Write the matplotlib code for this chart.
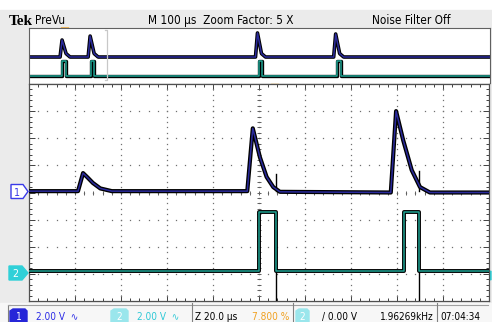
import matplotlib.pyplot as plt
from matplotlib.patches import Polygon, Rectangle
from matplotlib import font_manager
import numpy as np

# main window, 20 us/div, 2 V/div
ch1_times = [0, 21.3, 23.5, 25.5, 27.8, 31, 36, 94.9, 97.3, 100.4, 103.3, 106.2, 109.1,
             157.3, 159.6, 162.7, 166.4, 170, 174.3, 200]
ch1_volts = [0, 0, 1.33, 1.0, 0.6, 0.2, 0, 0, 4.63, 2.5, 1.05, 0.3, -0.05,
             -0.1, 5.9, 3.75, 1.55, 0.3, -0.1, -0.1]
ch2_times = [0, 100, 100, 107.3, 107.3, 163.2, 163.2, 169.6, 169.6, 200]
ch2_volts = [0, 0, 4.38, 4.38, 0, 0, 4.38, 4.38, 0, 0]
spike_times = [107.4, 169.7]
ch1_spike_tops = [1.25, 1.5]
ch2_spike_bottoms = [-2.3, -2.3]

# preview window (M 100 us -> 1 ms across)
pre_ch1_times = [0, 67.4, 71.7, 80.4, 89, 128.3, 132.6, 141.3, 150, 491.3, 495.6, 504.3, 513,
                 660.9, 665.2, 673.9, 682.6, 1000]
pre_ch1_volts = [0, 0, 4.95, 1.0, 0, 0, 6.1, 1.0, 0, 0, 7.0, 1.0, 0, 0, 6.7, 1.0, 0, 0]
pre_ch2_times = [0, 71.7, 71.7, 80.4, 80.4, 134, 134, 142, 142, 498.5, 498.5, 506, 506,
                 669, 669, 676, 676, 1000]
pre_ch2_volts = [0, 0, 4.5, 4.5, 0, 0, 4.5, 4.5, 0, 0, 4.5, 4.5, 0, 0, 4.5, 4.5, 0, 0]

volts_per_div = 2.0
ch1_offset = 0.05   # divisions
ch2_offset = -2.9
pre_ch1_offset = -0.22
pre_ch2_offset = -3.05

navy = "#2a2a9c"
teal = "#1fa393"
blue_txt = "#2b2be6"
cyan_txt = "#2ec8d6"
orange = "#f0a020"

# scope font is condensed - use a narrow face if there is one
narrow = [f for f in font_manager.fontManager.ttflist
          if "condensed" in str(f.stretch).lower() or "narrow" in f.name.lower()]
if narrow:
    font = [narrow[0].name, "DejaVu Sans"]
    stretch = narrow[0].stretch
    fs_top, fs_bot = 8.5, 7.2
else:
    font = ["Liberation Sans", "DejaVu Sans"]
    stretch = "normal"
    fs_top, fs_bot = 7.5, 7.0
txt = dict(family=font, fontstretch=stretch)

W, H = 492, 322
fig = plt.figure(figsize=(W / 100, H / 100), dpi=100)
fig.patch.set_facecolor("white")

# pixel space background axes
bg = fig.add_axes([0, 0, 1, 1])
bg.set_xlim(0, W)
bg.set_ylim(H, 0)
bg.axis("off")
bg.add_patch(Rectangle((0, 10), W, 293, color="#ebebeb", zorder=0))
bg.add_patch(Rectangle((0, 303), W, 19, color="#f7f7f7", zorder=0))

bg.text(9, 24.5, "Tek", family="Liberation Serif", weight="bold", fontsize=11)
bg.text(35, 24, "PreVu", fontsize=fs_top, **txt)
bg.text(221, 24, "M 100 µs  Zoom Factor: 5 X", fontsize=fs_top, ha="center", **txt)
bg.text(411, 24, "Noise Filter Off", fontsize=fs_top, ha="center", **txt)

# status bar
bg.plot([10, 8, 8], [305, 305, 322], color="#808080", lw=0.8)
bg.plot([8, 488], [305, 305], color="#a0a0a0", lw=0.8)
for xs in [192, 293, 437]:
    bg.plot([xs, xs], [303, 322], color="#808080", lw=0.8)
bg.add_patch(Polygon([(10, 322), (10, 311), (13, 309), (25, 309), (27, 311), (27, 322)],
                     closed=True, color="#2626d8"))
bg.text(18.5, 320, "1", color="white", fontsize=fs_bot, ha="center", **txt)
bg.text(36, 320, "2.00 V  ∿", color=blue_txt, fontsize=fs_bot, **txt)
bg.add_patch(Polygon([(111, 322), (111, 311), (114, 309), (126, 309), (128, 311), (128, 322)],
                     closed=True, color="#9ae6ec"))
bg.text(119.5, 320, "2", color="white", fontsize=fs_bot, ha="center", **txt)
bg.text(137, 320, "2.00 V  ∿", color=cyan_txt, fontsize=fs_bot, **txt)
bg.text(195, 320, "Z 20.0 µs", color="black", fontsize=fs_bot, **txt)
bg.text(289, 320, "7.800 %", color=orange, fontsize=fs_bot, ha="right", **txt)
bg.add_patch(Polygon([(296, 322), (296, 311), (299, 309), (307, 309), (309, 311), (309, 322)],
                     closed=True, color="#9ae6ec"))
bg.text(302.5, 320, "2", color="white", fontsize=fs_bot, ha="center", **txt)
bg.text(322, 320, "/ 0.00 V", color="black", fontsize=fs_bot, **txt)
bg.text(434, 320, "1.96269kHz", color="black", fontsize=fs_bot, ha="right", **txt)
bg.text(440, 320, "07:04:34", color="black", fontsize=fs_bot, **txt)

# channel markers
bg.add_patch(Polygon([(11, 184.5), (23, 184.5), (28, 191.5), (23, 198.5), (11, 198.5)],
                     closed=True, facecolor="white", edgecolor="#3a3ae8", lw=1))
bg.text(17, 195.5, "1", color="#3a3ae8", fontsize=fs_bot + 0.5, ha="center", **txt)
bg.add_patch(Polygon([(9, 266), (22, 266), (28, 273), (22, 280), (9, 280)],
                     closed=True, color="#30d0d8"))
bg.text(15.5, 277, "2", color="white", fontsize=fs_bot + 0.5, ha="center", **txt)
bg.add_patch(Polygon([(491, 271), (491, 280), (485, 275.5)], closed=True, color="#30d0d8", zorder=5))

# trigger markers
for tx, ty in [(275, 84.5), (65, 28)]:
    bg.add_patch(Polygon([(tx - 4, ty), (tx + 4, ty), (tx, ty + 4)], closed=True, color=orange, zorder=6))
    bg.add_patch(Polygon([(tx - 3.5, ty + 4), (tx + 3.5, ty + 4), (tx + 3.5, ty + 12),
                          (tx, ty + 15), (tx - 3.5, ty + 12)],
                         closed=True, facecolor="#f8c080", edgecolor=orange, lw=0.6, zorder=6))
    bg.text(tx, ty + 12, "T", color="white", fontsize=6, weight="bold", ha="center", zorder=7)

# preview strip
pv = fig.add_axes([29 / W, (H - 83) / H, 461 / W, 55 / H])
pv.set_xlim(0, 1000)
pv.set_ylim(-4, 4)
pv.set_xticks([])
pv.set_yticks([])
for s in pv.spines.values():
    s.set_color("#606060")
    s.set_linewidth(0.8)
pv.spines["bottom"].set_visible(False)
pre1 = np.array(pre_ch1_volts) / volts_per_div + pre_ch1_offset
pre2 = np.array(pre_ch2_volts) / volts_per_div + pre_ch2_offset
pv.plot(pre_ch1_times, pre1, color="black", lw=2.6)
pv.plot(pre_ch1_times, pre1, color=navy, lw=1.1)
pv.plot(pre_ch2_times, pre2, color="black", lw=2.4)
pv.plot(pre_ch2_times, pre2, color=teal, lw=1.1)
# zoom bracket
pv.plot([165, 170, 170, 165], [3.7, 3.7, -3.6, -3.6], color="#c8c8c8", lw=0.9)

# main graticule
ax = fig.add_axes([29 / W, (H - 301) / H, 460 / W, 217 / H])
ax.set_xlim(0, 200)
ax.set_ylim(-4, 4)
ax.set_facecolor("white")
for s in ax.spines.values():
    s.set_color("#505050")
    s.set_linewidth(0.9)
ax.set_xticks(np.arange(0, 201, 20))
ax.set_yticks(np.arange(-4, 5, 1))
ax.set_xticks(np.arange(0, 201, 4), minor=True)
ax.set_yticks(np.arange(-4, 4.01, 0.2), minor=True)
ax.tick_params(which="both", direction="in", top=True, right=True,
               labelbottom=False, labelleft=False, color="#404040", width=0.7)
ax.tick_params(which="major", length=4.5)
ax.tick_params(which="minor", length=2.2)

# dotted grid
gx = np.arange(20, 200, 20)
gy = np.arange(-3, 4, 1)
dots_y = np.arange(-4, 4.01, 0.2)
dots_x = np.arange(0, 200.1, 4)
for x in gx:
    ax.plot(np.full(dots_y.size, x), dots_y, ls="none", marker="s", ms=0.9,
            color="#707070", mew=0)
for y in gy:
    ax.plot(dots_x, np.full(dots_x.size, y), ls="none", marker="s", ms=0.9,
            color="#707070", mew=0)
# centre crosshair with small ticks
ax.plot(np.full(dots_y.size, 100), dots_y, ls="none", marker="_", ms=3, mew=0.7, color="#606060")
ax.plot(dots_x, np.zeros(dots_x.size), ls="none", marker="|", ms=3, mew=0.7, color="#606060")

c1 = np.array(ch1_volts) / volts_per_div + ch1_offset
c2 = np.array(ch2_volts) / volts_per_div + ch2_offset
ax.plot(ch1_times, c1, color="black", lw=3.0, zorder=3)
ax.plot(ch1_times, c1, color=navy, lw=1.1, zorder=4)
ax.plot(ch2_times, c2, color="black", lw=2.8, zorder=3)
ax.plot(ch2_times, c2, color=teal, lw=1.1, zorder=4)
for t, top, bot in zip(spike_times, ch1_spike_tops, ch2_spike_bottoms):
    ax.plot([t, t], [ch1_offset, top / volts_per_div + ch1_offset], color="black", lw=1.0, zorder=3)
    ax.plot([t, t], [ch2_offset, bot / volts_per_div + ch2_offset], color="black", lw=1.0, zorder=3)

fig.savefig("out.png", dpi=100)
